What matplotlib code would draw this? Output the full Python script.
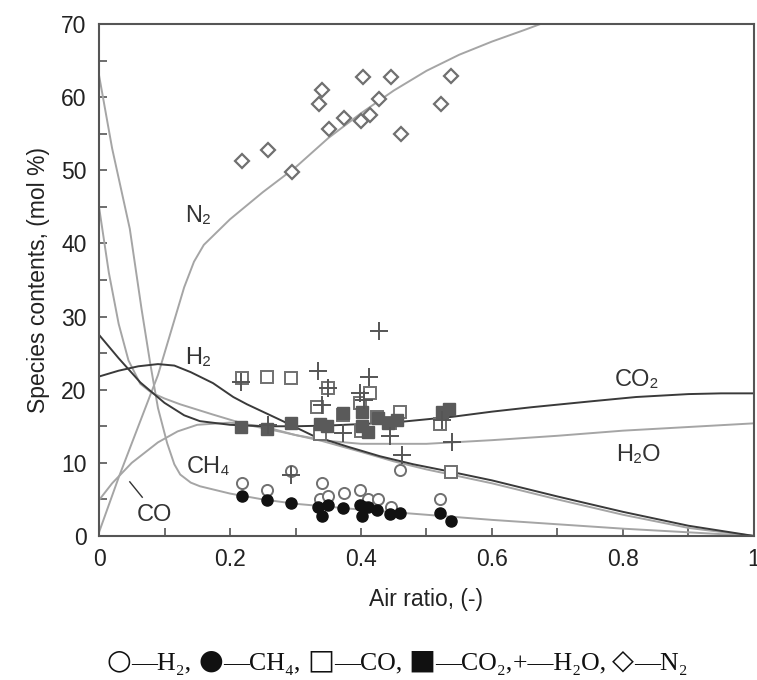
import numpy as np
import matplotlib
matplotlib.use("Agg")
import matplotlib.pyplot as plt

# Données mesurées (points)
h2_x = [0.218, 0.256, 0.293, 0.337, 0.340, 0.350, 0.374, 0.398, 0.411, 0.426, 0.446, 0.460, 0.521]
h2_y = [7.3, 6.3, 8.9, 5.1, 7.2, 5.4, 5.9, 6.3, 5.1, 5.0, 3.9, 9.0, 5.0]

ch4_x = [0.218, 0.256, 0.293, 0.335, 0.340, 0.350, 0.373, 0.398, 0.401, 0.405, 0.411, 0.424, 0.444, 0.459, 0.521, 0.537]
ch4_y = [5.4, 4.9, 4.5, 3.9, 2.7, 4.2, 3.8, 4.3, 2.7, 3.9, 4.0, 3.6, 3.0, 3.2, 3.2, 2.1]

co_x = [0.218, 0.256, 0.293, 0.333, 0.337, 0.350, 0.373, 0.398, 0.400, 0.414, 0.424, 0.444, 0.459, 0.521, 0.537]
co_y = [21.6, 21.7, 21.6, 17.7, 14.0, 20.2, 16.5, 18.2, 14.3, 19.5, 16.2, 15.5, 17.0, 15.3, 8.8]

co2_x = [0.217, 0.256, 0.293, 0.337, 0.348, 0.373, 0.401, 0.401, 0.411, 0.426, 0.441, 0.455, 0.523, 0.535]
co2_y = [14.9, 14.6, 15.4, 15.3, 15.1, 16.8, 17.0, 15.0, 14.2, 16.1, 15.4, 15.9, 17.0, 17.3]

h2o_x = [0.217, 0.258, 0.293, 0.335, 0.340, 0.350, 0.373, 0.398, 0.405, 0.412, 0.428, 0.444, 0.462, 0.523, 0.539]
h2o_y = [21.1, 15.2, 8.4, 22.6, 17.9, 20.3, 14.1, 19.6, 18.6, 21.8, 28.0, 13.7, 11.1, 15.8, 12.8]

n2_x = [0.218, 0.258, 0.295, 0.336, 0.341, 0.351, 0.374, 0.403, 0.400, 0.414, 0.427, 0.446, 0.461, 0.522, 0.537]
n2_y = [51.3, 52.8, 49.8, 59.0, 61.0, 55.7, 57.2, 62.7, 56.8, 57.5, 59.7, 62.7, 55.0, 59.0, 62.9]

# Courbes calculées (équilibre)
n2_cx = [0, 0.03, 0.06, 0.09, 0.11, 0.13, 0.145, 0.16, 0.2, 0.25, 0.3, 0.35, 0.4, 0.45, 0.5, 0.55, 0.6, 0.65, 0.68]
n2_cy = [0.5, 8, 15, 22, 28, 34, 37.5, 39.8, 43.3, 47, 50.4, 54.4, 57.8, 60.9, 63.6, 65.8, 67.6, 69.2, 70.2]

h2o_cx = [0, 0.02, 0.05, 0.09, 0.12, 0.15, 0.2, 0.25, 0.3, 0.35, 0.4, 0.5, 0.6, 0.7, 0.8, 0.9, 1.0]
h2o_cy = [4.9, 7.2, 10.0, 12.8, 14.3, 15.2, 15.5, 15.0, 13.8, 13.0, 12.6, 12.6, 13.1, 13.7, 14.4, 14.9, 15.4]

co2_cx = [0, 0.03, 0.063, 0.1, 0.13, 0.154, 0.2, 0.25, 0.3, 0.35, 0.4, 0.46, 0.54, 0.6, 0.66, 0.75, 0.82, 0.9, 0.95, 1.0]
co2_cy = [27.5, 24.3, 21.0, 18.2, 16.5, 15.7, 15.2, 15.0, 15.0, 15.1, 15.3, 15.6, 16.3, 17.0, 17.6, 18.4, 19.0, 19.4, 19.5, 19.5]

h2_cx = [0, 0.03, 0.06, 0.09, 0.115, 0.14, 0.174, 0.205, 0.226, 0.276, 0.327, 0.38, 0.429, 0.48, 0.536, 0.6, 0.7, 0.8, 0.9, 1.0]
h2_cy = [21.8, 22.6, 23.2, 23.5, 23.3, 22.4, 20.9, 19.0, 18.0, 15.9, 13.7, 12.2, 10.9, 9.8, 8.8, 7.6, 5.4, 3.3, 1.4, 0]

co_cx = [0, 0.015, 0.03, 0.045, 0.063, 0.08, 0.1, 0.124, 0.174, 0.226, 0.28, 0.34, 0.4, 0.45, 0.5, 0.537, 0.6, 0.7, 0.8, 0.9, 1.0]
co_cy = [45, 36, 29, 24, 20.8, 19.6, 18.8, 18.0, 16.6, 15.2, 14.2, 13.0, 11.5, 10.2, 9.1, 8.4, 7.2, 5.0, 2.9, 1.1, 0]

ch4_cx = [0, 0.02, 0.047, 0.065, 0.078, 0.09, 0.104, 0.115, 0.124, 0.14, 0.154, 0.2, 0.25, 0.3, 0.35, 0.4, 0.5, 0.6, 0.7, 0.8, 0.9, 1.0]
ch4_cy = [63, 53, 42, 31, 23.7, 17.5, 12.7, 9.8, 8.4, 7.3, 6.8, 5.8, 5.0, 4.4, 4.0, 3.6, 2.9, 2.2, 1.6, 1.0, 0.5, 0]

# Légende texte sous la figure : (texte, est_un_symbole)
legende = [("○", True), ("—H₂, ", False), ("●", True), ("—CH₄, ", False),
           ("□", True), ("—CO, ", False), ("■", True), ("—CO₂,", False),
           ("+—H₂O, ", False), ("◇", True), ("—N₂", False)]

DARK = "#3a3a3a"
LIGHT = "#a5a5a5"
MK = "#707070"

fig = plt.figure(figsize=(7.57, 6.8), dpi=100)
ax = fig.add_axes([0.1308, 0.2118, 0.8652, 0.7529])

# Courbes
ax.plot(n2_cx, n2_cy, color=LIGHT, lw=1.4, zorder=2)
ax.plot(h2o_cx, h2o_cy, color=LIGHT, lw=1.4, zorder=2)
ax.plot(co_cx, co_cy, color=LIGHT, lw=1.4, zorder=2)
ax.plot(ch4_cx, ch4_cy, color=LIGHT, lw=1.4, zorder=2)
ax.plot(co2_cx, co2_cy, color=DARK, lw=1.4, zorder=2)
ax.plot(h2_cx, h2_cy, color=DARK, lw=1.4, zorder=2)

# Points expérimentaux
ax.plot(n2_x, n2_y, ls="none", marker="D", ms=7.5, mfc="white", mec=MK, mew=1.6, zorder=3)
ax.plot(co_x, co_y, ls="none", marker="s", ms=8.5, mfc="white", mec=MK, mew=1.4, zorder=3)
ax.plot(co2_x, co2_y, ls="none", marker="s", ms=8, mfc="#5a5a5a", mec="#5a5a5a", mew=1, zorder=4)
ax.plot(h2o_x, h2o_y, ls="none", marker="+", ms=13, mec="#555555", mew=1.4, zorder=5)
ax.plot(h2_x, h2_y, ls="none", marker="o", ms=8, mfc="white", mec=MK, mew=1.4, zorder=3)
ax.plot(ch4_x, ch4_y, ls="none", marker="o", ms=8, mfc="#111111", mec="#111111", zorder=4)

# Étiquettes des courbes
lab = dict(fontsize=17, color="#333333", family=["Liberation Sans", "DejaVu Sans"],
           ha="center", va="center")
ax.text(0.151, 43.7, "N₂", **lab)
ax.text(0.151, 24.3, "H₂", **lab)
ax.text(0.167, 9.4, "CH₄", **lab)
ax.text(0.084, 2.9, "CO", **lab)
ax.plot([0.047, 0.066], [7.4, 5.3], color="#333333", lw=1)
ax.text(0.821, 21.3, "CO₂", **lab)
ax.text(0.823, 11.1, "H₂O", **lab)

# Axes
ax.set_xlim(0, 1)
ax.set_ylim(0, 70)
ax.set_xticks(np.arange(0, 1.01, 0.1))
ax.set_xticklabels(["0", "", "0.2", "", "0.4", "", "0.6", "", "0.8", "", "1"])
ax.set_yticks(np.arange(0, 71, 5))
ax.set_yticklabels([str(v) if v % 10 == 0 else "" for v in range(0, 71, 5)])
ax.tick_params(direction="in", length=6, width=1.2, color="#555555",
               labelsize=16.5, labelcolor="#222222", pad=9)
for lbl in ax.get_xticklabels() + ax.get_yticklabels():
    lbl.set_family("Liberation Sans")
for s in ax.spines.values():
    s.set_color("#555555")
    s.set_linewidth(1.5)

ax.set_xlabel("Air ratio, (-)", fontsize=16.5, family="Liberation Sans", color="#222222", labelpad=12)
ax.set_ylabel("Species contents, (mol %)", fontsize=16.5, family="Liberation Sans", color="#222222", labelpad=8)

# Légende des symboles, morceau par morceau
prev = None
for txt, sym in legende:
    style = dict(fontsize=20.5 if sym else 18.6, color="#111111", va="bottom", ha="left",
                 family=["DejaVu Sans"] if sym else ["Liberation Serif", "DejaVu Sans"])
    if prev is None:
        prev = fig.text(0.141, 0.008, txt, **style)
    else:
        prev = ax.annotate(txt, xy=(1, 0), xycoords=prev, annotation_clip=False, **style)

fig.savefig("out.png", dpi=100)
